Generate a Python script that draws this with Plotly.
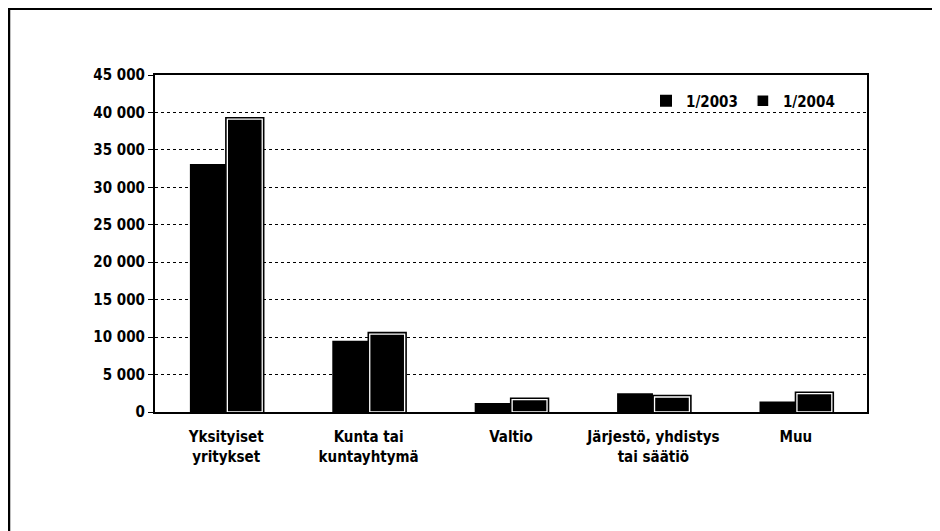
import plotly.graph_objects as go

categories = ["Yksityiset<br>yritykset", "Kunta tai<br>kuntayhtymä", "Valtio",
              "Järjestö, yhdistys<br>tai säätiö", "Muu"]
v2003 = [33100, 9500, 1200, 2500, 1400]
v2004 = [39100, 10400, 1650, 2000, 2450]
ytickvals = [0, 5000, 10000, 15000, 20000, 25000, 30000, 35000, 40000, 45000]
yticktext = ["0", "5 000", "10 000", "15 000", "20 000", "25 000", "30 000",
             "35 000", "40 000", "45 000"]

FONT = "DejaVu Sans Condensed, Liberation Sans Narrow, DejaVu Sans, sans-serif"

fig = go.Figure()
fig.add_trace(go.Bar(x=categories, y=v2003, name="1/2003", offset=-0.255, width=0.252,
                     marker=dict(color="black", line=dict(color="black", width=0))))
fig.add_trace(go.Bar(x=categories, y=v2004, name="1/2004", offset=0.008, width=0.245,
                     showlegend=False, hoverinfo="skip",
                     marker=dict(color="black", line=dict(color="black", width=4.5))))
fig.add_trace(go.Bar(x=categories, y=v2004, name="1/2004", offset=0.008, width=0.245,
                     marker=dict(color="black", line=dict(color="white", width=1.3))))

# page is offset by the 8px body margin
OFF = 8
W, H = 940 - OFF, 531 - OFF
L, T = 155 - OFF, 75 - OFF
R = W - (867 - OFF)
B = H - (412 - OFF)
pw, ph = W - L - R, H - T - B

def px(x):
    return (x - OFF - L) / pw

def py(y):
    return (H - B - (y - OFF)) / ph

fig.update_layout(
    width=W, height=H,
    margin=dict(l=L, r=R, t=T, b=B),
    barmode="overlay",
    plot_bgcolor="white", paper_bgcolor="white",
    font=dict(family=FONT, size=15, color="black", weight="bold"),
    legend=dict(orientation="h", x=px(840), xanchor="right", y=py(101), yanchor="middle",
                bgcolor="rgba(0,0,0,0)", font=dict(size=15), itemwidth=30,
                traceorder="normal"),
    xaxis=dict(showline=True, linecolor="black", linewidth=2, mirror=True,
               ticks="", showgrid=False, ticklabelstandoff=10,
               tickfont=dict(size=15)),
    yaxis=dict(range=[0, 45000], tickvals=ytickvals, ticktext=yticktext,
               showline=True, linecolor="black", linewidth=2, mirror=True,
               ticks="outside", ticklen=5, tickcolor="black",
               showgrid=True, gridcolor="black", griddash="dot", gridwidth=1,
               tickfont=dict(size=15), zeroline=False),
    shapes=[
        dict(type="line", xref="paper", yref="paper", x0=px(8), x1=px(940),
             y0=py(9), y1=py(9), line=dict(color="black", width=2)),
        dict(type="line", xref="paper", yref="paper", x0=px(9), x1=px(9),
             y0=py(9), y1=py(531), line=dict(color="black", width=2.5)),
    ],
)

fig.write_html("out.html")
